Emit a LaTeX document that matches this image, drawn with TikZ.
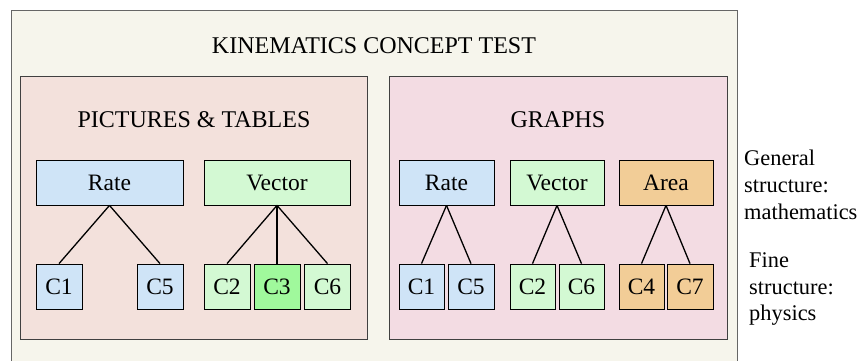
\documentclass[tikz,border=0pt]{standalone}
\usepackage{fontspec}
\setmainfont{Liberation Serif}
\newfontfamily\diagfont{Liberation Serif}
\definecolor{outerfill}{HTML}{F6F5EC}
\definecolor{leftfill}{HTML}{F3E1DC}
\definecolor{rightfill}{HTML}{F3DCE3}
\definecolor{ratefill}{HTML}{CFE4F7}
\definecolor{vecfill}{HTML}{D3F9D3}
\definecolor{vecdark}{HTML}{A0F99C}
\definecolor{areafill}{HTML}{F2CD97}
\newcommand{\dsize}{\diagfont\fontsize{24}{27}\selectfont}
\newcommand{\bsize}{\diagfont\fontsize{23.5}{27}\selectfont}
\newcommand{\ssize}{\diagfont\fontsize{22.4}{26.7}\selectfont}
\tikzset{
  txt/.style={font=\dsize, inner sep=0pt},
  side/.style={font=\ssize, inner sep=0pt, anchor=west, align=left},
  panel/.style={draw=black!75, line width=0.8pt},
  topic/.style={draw=black, line width=0.8pt, inner sep=0pt, font=\bsize},
  conn/.style={draw=black, line width=1.3pt},
}
\begin{document}
\begin{tikzpicture}[x=1pt,y=-1pt]
\useasboundingbox (0,0) rectangle (859,360);
% outer frame
\draw[fill=outerfill, draw=black!60, line width=0.8pt] (11,10) rectangle (737,380);
\node[txt] (title) at (374,45.5) {KINEMATICS CONCEPT TEST};
% panels
\draw[panel, fill=leftfill] (20,76) rectangle (367,339);
\draw[panel, fill=rightfill] (389,76) rectangle (727,339);
\node[txt] (pt) at (194,120) {PICTURES \& TABLES};
\node[txt] (gr) at (558,120) {GRAPHS};
% left panel boxes
\node[topic, fill=ratefill, minimum width=147pt, minimum height=45pt] (lrate) at (109.5,182.5) {Rate};
\node[topic, fill=vecfill, minimum width=146pt, minimum height=45pt] (lvec) at (277,182.5) {Vector};
\node[topic, fill=ratefill, minimum width=46pt, minimum height=45pt] (lc1) at (59,286.5) {C1};
\node[topic, fill=ratefill, minimum width=46pt, minimum height=45pt] (lc5) at (160,286.5) {C5};
\node[topic, fill=vecfill, minimum width=46pt, minimum height=45pt] (lc2) at (227,286.5) {C2};
\node[topic, fill=vecdark, minimum width=46pt, minimum height=45pt] (lc3) at (277,286.5) {C3};
\node[topic, fill=vecfill, minimum width=46pt, minimum height=45pt] (lc6) at (327.5,286.5) {C6};
% right panel boxes
\node[topic, fill=ratefill, minimum width=95pt, minimum height=45pt] (rrate) at (446.5,182.5) {Rate};
\node[topic, fill=vecfill, minimum width=94pt, minimum height=45pt] (rvec) at (557,182.5) {Vector};
\node[topic, fill=areafill, minimum width=94pt, minimum height=45pt] (rarea) at (666,182.5) {Area};
\node[topic, fill=ratefill, minimum width=45pt, minimum height=45pt] (rc1) at (421.5,286.5) {C1};
\node[topic, fill=ratefill, minimum width=46pt, minimum height=45pt] (rc5) at (471,286.5) {C5};
\node[topic, fill=vecfill, minimum width=45pt, minimum height=45pt] (rc2) at (532.5,286.5) {C2};
\node[topic, fill=vecfill, minimum width=45pt, minimum height=45pt] (rc6) at (581.5,286.5) {C6};
\node[topic, fill=areafill, minimum width=45pt, minimum height=45pt] (rc4) at (641.5,286.5) {C4};
\node[topic, fill=areafill, minimum width=46pt, minimum height=45pt] (rc7) at (690,286.5) {C7};
% tree connectors
\draw[conn] (lrate.south) -- (lc1.north);
\draw[conn] (lrate.south) -- (lc5.north);
\draw[conn] (lvec.south) -- (lc2.north);
\draw[conn] (lvec.south) -- (lc3.north);
\draw[conn] (lvec.south) -- (lc6.north);
\draw[conn] (rrate.south) -- (rc1.north);
\draw[conn] (rrate.south) -- (rc5.north);
\draw[conn] (rvec.south) -- (rc2.north);
\draw[conn] (rvec.south) -- (rc6.north);
\draw[conn] (rarea.south) -- (rc4.north);
\draw[conn] (rarea.south) -- (rc7.north);
% side captions
\node[side] (gen) at (744,185) {General\\structure:\\mathematics};
\node[side] (fine) at (749,289) {Fine\\structure:\\physics};
\end{tikzpicture}
\end{document}
